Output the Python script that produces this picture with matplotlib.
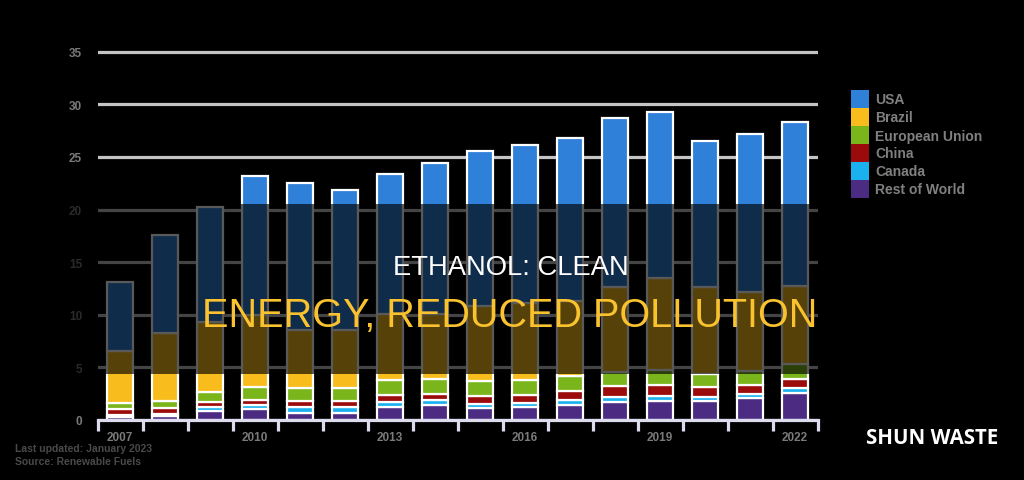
import matplotlib
matplotlib.use("Agg")
import matplotlib.pyplot as plt
from matplotlib.patches import Rectangle
import numpy as np

years = list(range(2007, 2023))
series_names = ["USA", "Brazil", "European Union", "China", "Canada", "Rest of World"]
usa    = [6.5, 9.3, 10.9, 13.2, 13.9, 13.3, 13.3, 14.3, 14.8, 15.0, 15.5, 16.1, 15.8, 13.9, 15.0, 15.6]
brazil = [5.0, 6.5, 6.6, 6.9, 5.6, 5.6, 6.3, 6.2, 7.1, 7.3, 7.1, 8.0, 8.7, 8.2, 7.5, 7.4]
eu     = [0.6, 0.7, 1.0, 1.2, 1.2, 1.2, 1.4, 1.4, 1.4, 1.4, 1.4, 1.4, 1.5, 1.3, 1.4, 1.4]
china  = [0.5, 0.5, 0.5, 0.5, 0.6, 0.6, 0.7, 0.6, 0.8, 0.8, 0.9, 1.0, 1.0, 0.9, 0.8, 0.9]
canada = [0.2, 0.2, 0.3, 0.4, 0.5, 0.5, 0.5, 0.5, 0.4, 0.4, 0.5, 0.5, 0.5, 0.4, 0.4, 0.4]
rest   = [0.3, 0.4, 0.9, 1.0, 0.7, 0.7, 1.2, 1.4, 1.1, 1.2, 1.4, 1.7, 1.8, 1.8, 2.1, 2.6]
colors = ["#2f80d8", "#f8bd1c", "#7bb51c", "#9c0b0b", "#1bb1ef", "#4c2b82"]
yticks = [0, 5, 10, 15, 20, 25, 30, 35]
xlabel_years = [2007, 2010, 2013, 2016, 2019, 2022]

W, H = 1024, 481
fig = plt.figure(figsize=(W / 100, H / 100), dpi=100, facecolor="black")

def fx(px):
    return px / W

def fy(py):
    return (H - py) / H

ax = fig.add_axes([fx(97.5), fy(421), fx(817.5) - fx(97.5), 35.2 * 10.52 / H])
ax.set_facecolor("black")
ax.set_xlim(-0.5, len(years) - 0.5)
ax.set_ylim(0, 35.2)

x = np.arange(len(years))
stack = [rest, canada, china, eu, brazil, usa]
stack_colors = [colors[5], colors[4], colors[3], colors[2], colors[1], colors[0]]
bottom = np.zeros(len(years))
for vals, c in zip(stack, stack_colors):
    v = np.array(vals)
    ax.bar(x, v, bottom=bottom, width=0.56, color=c, edgecolor="white",
           linewidth=1.6, zorder=3)
    bottom += v

ax.set_yticks(yticks)
ax.set_yticklabels([str(t) for t in yticks], fontsize=8.5, fontweight="bold",
                   color="#7a7a7a", family="Liberation Sans")
ax.tick_params(axis="y", length=0, pad=11)
ax.yaxis.grid(True, color="#c4c4c4", linewidth=2.3, zorder=1)
ax.set_axisbelow(True)

ax.set_xticks(np.arange(-0.5, len(years) + 0.5, 1.0), minor=False)
ax.set_xticklabels([""] * (len(years) + 1))
ax.tick_params(axis="x", length=8, width=2.3, color="#dcdcee", pad=0)
for yr in xlabel_years:
    ax.text(years.index(yr), -1.6, str(yr), ha="center", va="center",
            fontsize=8.5, fontweight="bold", color="#7a7a7a",
            family="Liberation Sans")

for s in ["top", "right", "left"]:
    ax.spines[s].set_visible(False)
ax.spines["bottom"].set_color("#dcdcee")
ax.spines["bottom"].set_linewidth(2.3)
ax.spines["bottom"].set_zorder(4)

# legend
for i, (name, c) in enumerate(zip(series_names, colors)):
    top = 91 + i * 18
    fig.patches.append(Rectangle((fx(851), fy(top + 18)), fx(18), 18 / H,
                                 transform=fig.transFigure, facecolor=c,
                                 edgecolor="none", zorder=5))
    fig.text(fx(875), fy(top + 9.5), name, ha="left", va="center",
             fontsize=10, fontweight="bold", color="#808080",
             family="Liberation Sans")

# footnote
fig.text(fx(15), fy(449), "Last updated: January 2023", ha="left", va="center",
         fontsize=7.5, fontweight="bold", color="#4a4a4a", family="Liberation Sans")
fig.text(fx(15), fy(462), "Source: Renewable Fuels", ha="left", va="center",
         fontsize=7.5, fontweight="bold", color="#4a4a4a", family="Liberation Sans")

# dark overlay band
fig.patches.append(Rectangle((0, fy(375)), 1, (375 - 205) / H,
                             transform=fig.transFigure, facecolor="black",
                             alpha=0.65, edgecolor="none", zorder=20))

fig.text(fx(511), fy(268), "ETHANOL: CLEAN", ha="center", va="center",
         fontsize=19.7, color="white", family="Liberation Sans", zorder=30)
fig.text(fx(510), fy(316), "ENERGY, REDUCED POLLUTION", ha="center", va="center",
         fontsize=28.5, color="#f9c22e", family="Liberation Sans", zorder=30)

fig.text(fx(932), fy(439), "SHUN WASTE", ha="center", va="center",
         fontsize=14.8, fontweight="bold", color="white", family="Open Sans", zorder=30)

fig.savefig("out.png", dpi=100, facecolor="black")
